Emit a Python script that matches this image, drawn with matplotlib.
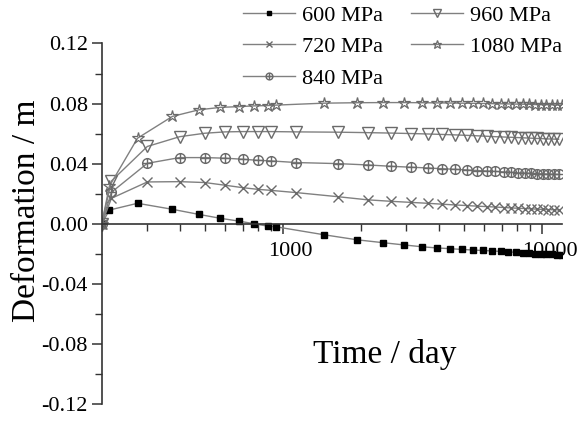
import numpy as np
import matplotlib
matplotlib.use('Agg')
import matplotlib.pyplot as plt
from matplotlib.path import Path
from matplotlib.ticker import LogLocator, MultipleLocator, FixedFormatter, FixedLocator
import matplotlib.transforms as mtransforms

plt.rcParams['font.family'] = ['Liberation Serif', 'DejaVu Serif']

# Time points (days) where the curves are sampled
time_a = [200, 214, 275, 375, 475, 575, 675, 775, 875, 940,
          1440, 1940, 2440, 2940, 3440, 3940, 4440, 4940, 5440, 5940, 6440,
          6940, 7440, 7940, 8440, 8940, 9440, 9940, 10440, 10940, 11440, 11940]
time_b = [200, 218, 300, 400, 500, 600, 700, 800, 900,
          1130, 1630, 2130, 2630, 3130, 3630, 4130, 4630, 5130, 5630, 6130, 6630,
          7130, 7630, 8130, 8630, 9130, 9630, 10130, 10630, 11130, 11630]

# Deformation (m)
d600 = [0, 0.0092, 0.0137, 0.0097, 0.0063, 0.0037, 0.0019, 0.0001, -0.0015, -0.0019,
        -0.0072, -0.0106, -0.0125, -0.0140, -0.0152, -0.0160, -0.0165, -0.0170, -0.0174,
        -0.0177, -0.0180, -0.0183, -0.0186, -0.0189, -0.0192, -0.0195, -0.0197, -0.0199,
        -0.0201, -0.0203, -0.0205, -0.0207]
d1080 = [0, 0.025, 0.057, 0.0715, 0.0759, 0.0775, 0.078, 0.0785, 0.0787, 0.079,
         0.0803, 0.0806, 0.0807, 0.0807, 0.0806, 0.0805, 0.0804, 0.0803, 0.0802, 0.0801,
         0.0800, 0.0799, 0.0798, 0.0797, 0.0796, 0.0795, 0.0794, 0.0793, 0.0793, 0.0792,
         0.0791, 0.0790]
d960 = [0, 0.0285, 0.0515, 0.058, 0.0603, 0.0612, 0.0614, 0.0614, 0.0614,
        0.0612, 0.0610, 0.0607, 0.0604, 0.0601, 0.0598, 0.0595, 0.0592, 0.0589, 0.0586,
        0.0583, 0.0580, 0.0578, 0.0576, 0.0574, 0.0572, 0.0570, 0.0568, 0.0567, 0.0565,
        0.0564, 0.0563]
d840 = [0, 0.021, 0.0403, 0.0441, 0.0441, 0.0437, 0.043, 0.0423, 0.0419,
        0.0408, 0.0401, 0.0392, 0.0383, 0.0377, 0.0372, 0.0367, 0.0363, 0.0359, 0.0355,
        0.0352, 0.0349, 0.0346, 0.0343, 0.0340, 0.0338, 0.0336, 0.0334, 0.0333, 0.0331,
        0.0330, 0.0329]
d720 = [0, 0.017, 0.0279, 0.0281, 0.0275, 0.0257, 0.0241, 0.023, 0.0223,
        0.0208, 0.0181, 0.0160, 0.0150, 0.0143, 0.0137, 0.0131, 0.0126, 0.0122, 0.0118,
        0.0115, 0.0112, 0.0109, 0.0106, 0.0104, 0.0102, 0.0100, 0.0098, 0.0096, 0.0095,
        0.0094, 0.0093]

x_ticks = [1000, 10000]
x_labels = ['1000', '10000']
y_ticks = [-0.12, -0.08, -0.04, 0.00, 0.04, 0.08, 0.12]
y_labels = ['-0.12', '-0.08', '-0.04', '0.00', '0.04', '0.08', '0.12']

# circle with a cross inside
circ = Path.unit_circle()
cross = Path([[-1, 0], [1, 0], [0, -1], [0, 1]],
             [Path.MOVETO, Path.LINETO, Path.MOVETO, Path.LINETO])
oplus = Path.make_compound_path(circ, cross)

fig = plt.figure(figsize=(5.88, 4.21), dpi=100)
ax = fig.add_axes([0.173, 0.0397, 0.783, 0.857])

lc = '#808080'
mc = '#6a6a6a'
ax.plot(time_a, d600, color=lc, lw=1, marker='s', ms=5, mfc='black', mec='black',
        label='600 MPa')
ax.plot(time_b, d720, color=lc, lw=1, marker='x', ms=7, mec=mc, mew=1,
        label='720 MPa')
ax.plot(time_b, d840, color=lc, lw=1, marker=oplus, ms=7, mfc='none', mec=mc, mew=1,
        label='840 MPa')
ax.plot(time_b, d960, color=lc, lw=1, marker='v', ms=8, mfc='none', mec=mc, mew=1,
        label='960 MPa')
ax.plot(time_a, d1080, color=lc, lw=1, marker='*', ms=9, mfc='none', mec=mc, mew=0.9,
        label='1080 MPa')

ax.set_xscale('log')
ax.set_xlim(200, 12000)
ax.set_ylim(-0.12, 0.12)

ax.spines['top'].set_visible(False)
ax.spines['right'].set_visible(False)
ax.spines['bottom'].set_position(('data', 0))
for s in ['left', 'bottom']:
    ax.spines[s].set_linewidth(1.2)
    ax.spines[s].set_color('#333333')

ax.xaxis.set_major_locator(FixedLocator(x_ticks))
ax.xaxis.set_major_formatter(FixedFormatter(x_labels))
ax.xaxis.set_minor_locator(LogLocator(base=10, subs=np.arange(2, 10)))
ax.xaxis.set_minor_formatter(plt.NullFormatter())
ax.yaxis.set_major_locator(FixedLocator(y_ticks))
ax.yaxis.set_major_formatter(FixedFormatter(y_labels))
ax.yaxis.set_minor_locator(MultipleLocator(0.02))

ax.tick_params(axis='both', which='major', direction='out', length=7, width=1.1,
               labelsize=16, color='#333333', pad=3)
ax.tick_params(axis='both', which='minor', direction='out', length=5, width=1.0,
               color='#333333')
ax.tick_params(axis='x', which='major', pad=6)

# shift x tick labels a little to the right, like the original
offset = mtransforms.ScaledTranslation(8 / 100, 0, fig.dpi_scale_trans)
for lab in ax.get_xticklabels():
    lab.set_transform(lab.get_transform() + offset)

ax.text(0.615, 0.137, 'Time / day', transform=ax.transAxes, fontsize=24,
        ha='center', va='center')
fig.text(27 / 588, 0.5, 'Deformation / m', rotation=90, fontsize=24,
         ha='center', va='center')

h, l = ax.get_legend_handles_labels()
fig.legend(h, l, ncol=2, frameon=False,
           loc='upper left', bbox_to_anchor=(243 / 588, 1 - 5 / 421),
           fontsize=16, handlelength=2.35, handletextpad=0.3, columnspacing=1.25,
           labelspacing=0.5, borderpad=0, borderaxespad=0, markerscale=0.7)

fig.savefig('out.png', dpi=100)
